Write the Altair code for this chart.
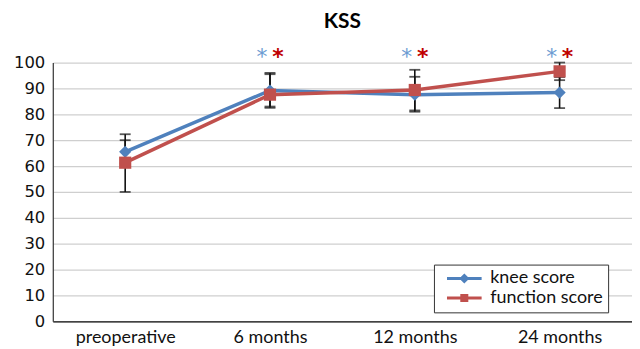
import altair as alt
import pandas as pd

categories = ["preoperative", "6 months", "12 months", "24 months"]
series_names = ["knee score", "function score"]
knee_score = [65.5, 89.2, 87.6, 88.4]
function_score = [61.3, 87.6, 89.4, 96.6]
knee_low = [61.0, 83.0, 81.0, 82.4]
knee_high = [70.0, 95.5, 94.5, 94.4]
function_low = [50.0, 82.5, 81.5, 93.2]
function_high = [72.3, 96.0, 97.2, 100.0]
star_categories = ["6 months", "12 months", "24 months"]
star_level = [103, 103, 103]

series_colors = ["#4F81BD", "#C0504D"]
star_colors = ["#6C9BD2", "#C00000"]

rows = []
for i, c in enumerate(categories):
    rows.append(dict(cat=c, series="knee score", value=knee_score[i],
                     low=knee_low[i], high=knee_high[i]))
    rows.append(dict(cat=c, series="function score", value=function_score[i],
                     low=function_low[i], high=function_high[i]))
df = pd.DataFrame(rows)
stars = pd.DataFrame({"cat": star_categories, "level": star_level})

x_scale = alt.Scale(type="point", padding=0.5)
x_axis = alt.Axis(title=None, labelAngle=0, ticks=False, grid=False,
                  domainColor="#111111", domainWidth=1.2,
                  labelFont="Lato", labelFontSize=18, labelColor="#111111",
                  labelPadding=7)
y_scale = alt.Scale(domain=[0, 100], nice=False)
y_axis = alt.Axis(title=None, values=list(range(0, 101, 10)), ticks=False,
                  grid=True, gridColor="#CFCFCF", gridWidth=1.2,
                  domainColor="#333333", domainWidth=1.2, labelOverlap=False,
                  labelFont="DejaVu Sans", labelFontSize=16.5,
                  labelColor="#111111", labelPadding=8)


def X():
    return alt.X("cat:N", sort=categories, scale=x_scale, axis=x_axis)


def Y(field):
    return alt.Y(field, scale=y_scale, axis=y_axis)


color_enc = alt.Color("series:N", sort=series_names,
                      scale=alt.Scale(range=series_colors), legend=None)

base = alt.Chart(df)

# legend symbols: a line with the series marker in its middle
diamond_path = "M-2.9,0L2.9,0M0,-0.5L0.5,0L0,0.5L-0.5,0Z"
square_path = "M-2.9,0L2.9,0M-0.42,-0.42L0.42,-0.42L0.42,0.42L-0.42,0.42Z"
leg = alt.Legend(title=None, orient="none", legendX=383, legendY=203)
legend_layer = base.mark_point(filled=True, opacity=1, strokeWidth=3, size=1).encode(
    x=X(), y=Y("value:Q"),
    fill=alt.Fill("series:N", scale=alt.Scale(domain=series_names, range=series_colors), legend=leg),
    stroke=alt.Stroke("series:N", scale=alt.Scale(domain=series_names, range=series_colors), legend=leg),
    shape=alt.Shape("series:N", scale=alt.Scale(domain=series_names, range=[diamond_path, square_path]), legend=leg),
)

lines = base.mark_line(strokeWidth=3.5).encode(
    x=X(), y=Y("value:Q"), color=color_enc, detail="series:N"
)

err_rules = base.mark_rule(color="#111111", strokeWidth=1.6).encode(
    x=X(), y=Y("low:Q"), y2="high:Q"
)
cap_low = base.mark_tick(color="#111111", thickness=1.8, size=11, orient="horizontal").encode(
    x=X(), y=Y("low:Q")
)
cap_high = base.mark_tick(color="#111111", thickness=1.8, size=11, orient="horizontal").encode(
    x=X(), y=Y("high:Q")
)

knee_pts = base.transform_filter(alt.datum.series == "knee score").mark_point(
    shape="diamond", filled=True, opacity=1, size=150).encode(
    x=X(), y=Y("value:Q"), color=color_enc)
func_pts = base.transform_filter(alt.datum.series == "function score").mark_point(
    shape="square", filled=True, opacity=1, size=150).encode(
    x=X(), y=Y("value:Q"), color=color_enc)

star_base = alt.Chart(stars)
star_knee = star_base.mark_text(text="*", fontSize=22, font="DejaVu Sans", color=star_colors[0],
                                dx=-8, dy=2, baseline="middle").encode(
    x=X(), y=Y("level:Q"))
star_func = star_base.mark_text(text="*", fontSize=22, font="DejaVu Sans", fontWeight="bold",
                                color=star_colors[1], dx=8, dy=2, baseline="middle").encode(
    x=X(), y=Y("level:Q"))

chart = alt.layer(legend_layer, lines, err_rules, cap_low, cap_high, knee_pts, func_pts,
                  star_knee, star_func).properties(
    width=582, height=260,
    title=alt.TitleParams("KSS", fontSize=21, font="Lato", fontWeight="bold",
                          color="#000000", anchor="middle", offset=14, frame="group"),
    autosize=alt.AutoSizeParams(type="none"),
    padding={"left": 45, "top": 54, "right": 0, "bottom": 27},
).configure_view(stroke=None).configure_legend(
    labelFont="Lato", labelFontSize=18, labelColor="#111111",
    strokeColor="#333333", fillColor="#FFFFFF", padding=5,
    symbolSize=144, symbolStrokeWidth=3, labelOffset=17, rowPadding=1.5,
    symbolOffset=16.5, cornerRadius=0,
)

chart.save("out.html", embed_options={"renderer": "svg", "actions": False})
